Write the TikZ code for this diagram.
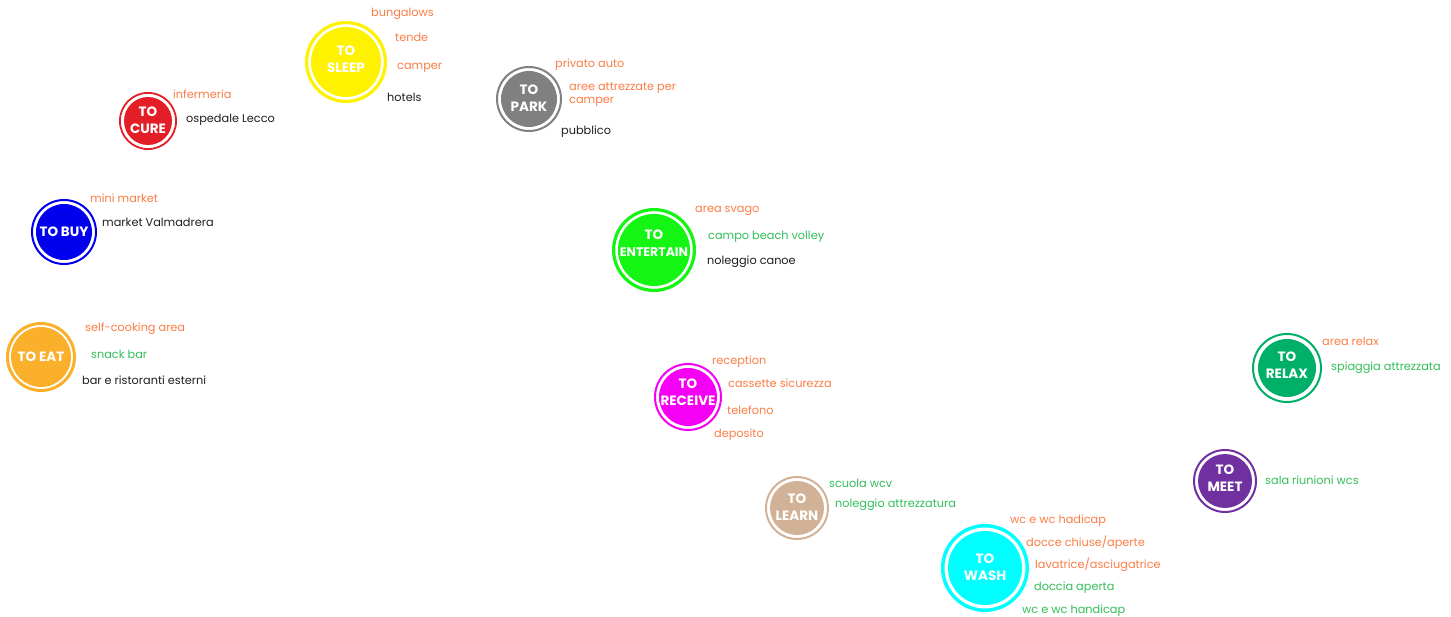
\documentclass[tikz,border=0pt]{standalone}
\usepackage{fontspec}
\setmainfont{Poppins}
\definecolor{torg}{RGB}{250,125,70}
\definecolor{tgrn}{RGB}{50,190,90}
\definecolor{tblk}{RGB}{30,30,30}
\definecolor{cyel}{RGB}{255,242,0}
\definecolor{cgry}{RGB}{128,128,128}
\definecolor{cred}{RGB}{228,30,38}
\definecolor{cblu}{RGB}{0,0,238}
\definecolor{cgrn}{RGB}{20,245,20}
\definecolor{corg}{RGB}{251,176,44}
\definecolor{cmag}{RGB}{245,0,245}
\definecolor{crlx}{RGB}{0,176,104}
\definecolor{cpur}{RGB}{112,48,160}
\definecolor{ctan}{RGB}{210,178,150}
\definecolor{ccyn}{RGB}{0,255,255}
\tikzset{
  disc/.style={circle,inner sep=0pt,align=center},
  disctext/.style={inner sep=0pt,text=white,align=center,
    font=\bfseries\fontsize{13.5}{17}\selectfont},
  lab/.style={anchor=west,inner sep=0pt,yshift=-1.5pt,font=\fontsize{11.3}{13.5}\selectfont},
  lo/.style={lab,text=torg},
  lg/.style={lab,text=tgrn},
  lk/.style={lab,text=tblk},
}
\newcommand\spotdisc[9]{%
  \node[disc,fill=#6,minimum size=#4*2pt] (#1) at (#2,#3) {};
  \draw[#6,line width=#8pt] (#1.center) circle (#5pt-#8pt/2);
  \node[disctext,yshift=#9pt] (#1txt) at (#1.center) {#7};
}
\begin{document}
\begin{tikzpicture}[x=1pt,y=-1pt]
\useasboundingbox (0,0) rectangle (1451,617);
% SLEEP
\spotdisc{sleep}{346}{62}{35}{41}{cyel}{TO\\SLEEP}{3.2}{2.5}
\node[lo] (s1) at (371,12) {bungalows};
\node[lo] (s2) at (395,36) {tende};
\node[lo] (s3) at (397,66) {camper};
\node[lk] (s4) at (387,96) {hotels};
% PARK
\spotdisc{park}{529}{99}{28}{33}{cgry}{TO\\PARK}{2}{1}
\node[lo] (p1) at (555,63) {privato auto};
\node[lo,align=left] (p2) at (569,93) {aree attrezzate per\\camper};
\node[lk] (p3) at (561,130) {pubblico};
% CURE
\spotdisc{cure}{148}{121}{24}{29}{cred}{TO\\CURE}{1.8}{1}
\node[lo] (c1) at (173,93) {infermeria};
\node[lk] (c2) at (186,118) {ospedale Lecco};
% BUY
\spotdisc{buy}{64}{232}{28}{33}{cblu}{TO BUY}{2}{0}
\node[lo] (b1) at (90,197) {mini market};
\node[lk] (b2) at (102,221) {market Valmadrera};
% ENTERTAIN
\spotdisc{ent}{654}{250}{36}{42}{cgrn}{TO\\{\fontsize{12.5}{17}\selectfont ENTERTAIN}}{3.2}{7}
\node[lo] (e1) at (695,209) {area svago};
\node[lg] (e2) at (708,235) {campo beach volley};
\node[lk] (e3) at (707,260) {noleggio canoe};
% EAT
\spotdisc{eat}{41}{357}{30}{35}{corg}{TO EAT}{3}{0}
\node[lo] (t1) at (85,327) {self-cooking area};
\node[lg] (t2) at (91,353) {snack bar};
\node[lk] (t3) at (82,379) {bar e ristoranti esterni};
% RECEIVE
\spotdisc{rec}{688}{397}{29}{34}{cmag}{TO\\RECEIVE}{2}{4.5}
\node[lo] (r1) at (712,360) {reception};
\node[lo] (r2) at (728,382) {cassette sicurezza};
\node[lo] (r3) at (727,409) {telefono};
\node[lo] (r4) at (714,433) {deposito};
% RELAX
\spotdisc{rlx}{1287}{368}{29}{35}{crlx}{TO\\RELAX}{2}{3}
\node[lo] (x1) at (1322,340) {area relax};
\node[lg] (x2) at (1331,366) {spiaggia attrezzata};
% MEET
\spotdisc{meet}{1225}{481}{27}{32}{cpur}{TO\\MEET}{2}{2.5}
\node[lg] (m1) at (1265,479) {sala riunioni wcs};
% LEARN
\spotdisc{learn}{797}{508}{27}{32}{ctan}{TO\\LEARN}{2}{1}
\node[lg] (l1) at (829,482) {scuola wcv};
\node[lg] (l2) at (835,503) {noleggio attrezzatura};
% WASH
\spotdisc{wash}{985}{568}{37}{44}{ccyn}{TO\\WASH}{3.5}{1}
\node[lo] (w1) at (1010,519) {wc e wc hadicap};
\node[lo] (w2) at (1026,541) {docce chiuse/aperte};
\node[lo] (w3) at (1035,563) {lavatrice/asciugatrice};
\node[lg] (w4) at (1034,586) {doccia aperta};
\node[lg] (w5) at (1022,609) {wc e wc handicap};
\end{tikzpicture}
\end{document}
